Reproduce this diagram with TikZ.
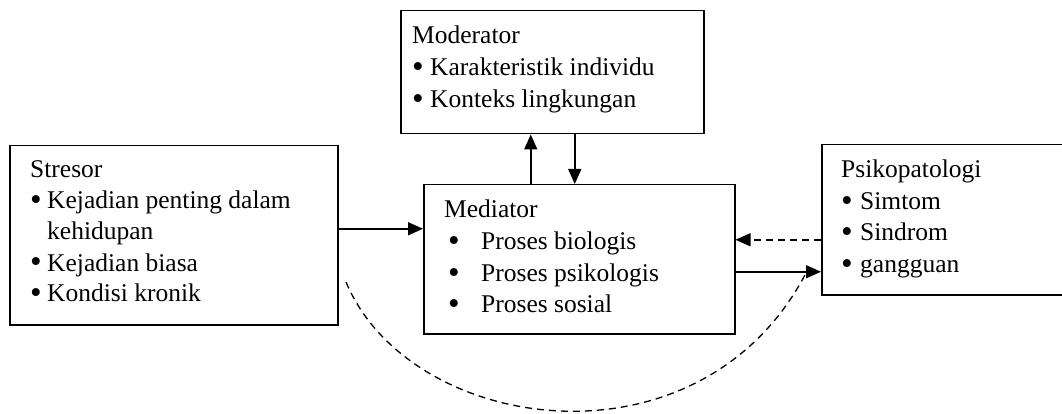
\documentclass[tikz,border=0pt]{standalone}
\usepackage{fontspec}
\setmainfont{Liberation Serif}
\usetikzlibrary{arrows.meta}
\newcommand{\bul}{\raisebox{-2pt}{\scalebox{1.3}{\textbullet}}}
\begin{document}
\begin{tikzpicture}[x=1pt,y=-1pt,
  box/.style={draw, line width=1.5pt, inner sep=0pt, anchor=north west},
  txt/.style={anchor=base west, inner sep=0pt},
  arr/.style={line width=1.5pt, -{Triangle[length=15pt,width=13pt]}},
  darr/.style={arr, dash pattern=on 7pt off 5pt},
  dline/.style={line width=1.3pt, dash pattern=on 7pt off 5pt},
]
\useasboundingbox (0,0) rectangle (1062,414);

% boxes
\node[box, minimum width=328pt, minimum height=179pt] (stresor) at (9,145) {};
\node[box, minimum width=303pt, minimum height=123pt] (moderator) at (400,10) {};
\node[box, minimum width=311pt, minimum height=149pt] (mediator) at (423,184) {};
\node[box, minimum width=246pt, minimum height=150pt] (psiko) at (821,144) {};

% texts
\node[txt, font=\fontsize{25.5}{31}\selectfont] (tstresor) at (30,178) {%
  \begin{tabular}[t]{@{}l@{}l@{}}
  \multicolumn{2}{@{}l@{}}{Stresor}\\
  \makebox[17pt][l]{\bul}&Kejadian penting dalam\\
  &kehidupan\\
  \makebox[17pt][l]{\bul}&Kejadian biasa\\
  \makebox[17pt][l]{\bul}&Kondisi kronik
  \end{tabular}};
\node[txt, font=\fontsize{25.5}{32}\selectfont] (tmoderator) at (412,44) {%
  \begin{tabular}[t]{@{}l@{}l@{}}
  \multicolumn{2}{@{}l@{}}{Moderator}\\
  \makebox[18pt][l]{\bul}&Karakteristik individu\\
  \makebox[18pt][l]{\bul}&Konteks lingkungan
  \end{tabular}};
\node[txt, font=\fontsize{25.5}{31.5}\selectfont] (tmediator) at (444,218) {%
  \begin{tabular}[t]{@{}l@{}l@{}}
  \multicolumn{2}{@{}l@{}}{Mediator}\\
  \makebox[37pt][l]{\hspace{4pt}\bul}&Proses biologis\\
  \makebox[37pt][l]{\hspace{4pt}\bul}&Proses psikologis\\
  \makebox[37pt][l]{\hspace{4pt}\bul}&Proses sosial
  \end{tabular}};
\node[txt, font=\fontsize{25.5}{31.5}\selectfont] (tpsiko) at (841,178) {%
  \begin{tabular}[t]{@{}l@{}l@{}}
  \multicolumn{2}{@{}l@{}}{Psikopatologi}\\
  \makebox[19pt][l]{\bul}&Simtom\\
  \makebox[19pt][l]{\bul}&Sindrom\\
  \makebox[19pt][l]{\bul}&gangguan
  \end{tabular}};

% connectors
\coordinate (s1) at ([yshift=6.5pt]stresor.east);
\draw[arr] (s1) -- (s1 -| mediator.west);
\coordinate (m1) at ([xshift=-48.5pt]mediator.north);
\draw[arr] (m1) -- (m1 |- moderator.south);
\coordinate (m2) at ([xshift=22.5pt]moderator.south);
\draw[arr] (m2) -- (m2 |- mediator.north);
\coordinate (p1) at ([yshift=-20pt]psiko.west);
\draw[darr] (p1) -- (p1 -| mediator.east);
\coordinate (p2) at ([yshift=-52pt]psiko.west);
\draw[arr] (p2 -| mediator.east) -- (p2);
\coordinate (c0) at (346,282);
\coordinate (c1) at (806,273);
\draw[dline] (c0) .. controls (410,435) and (700,476) .. (c1);
\end{tikzpicture}
\end{document}
